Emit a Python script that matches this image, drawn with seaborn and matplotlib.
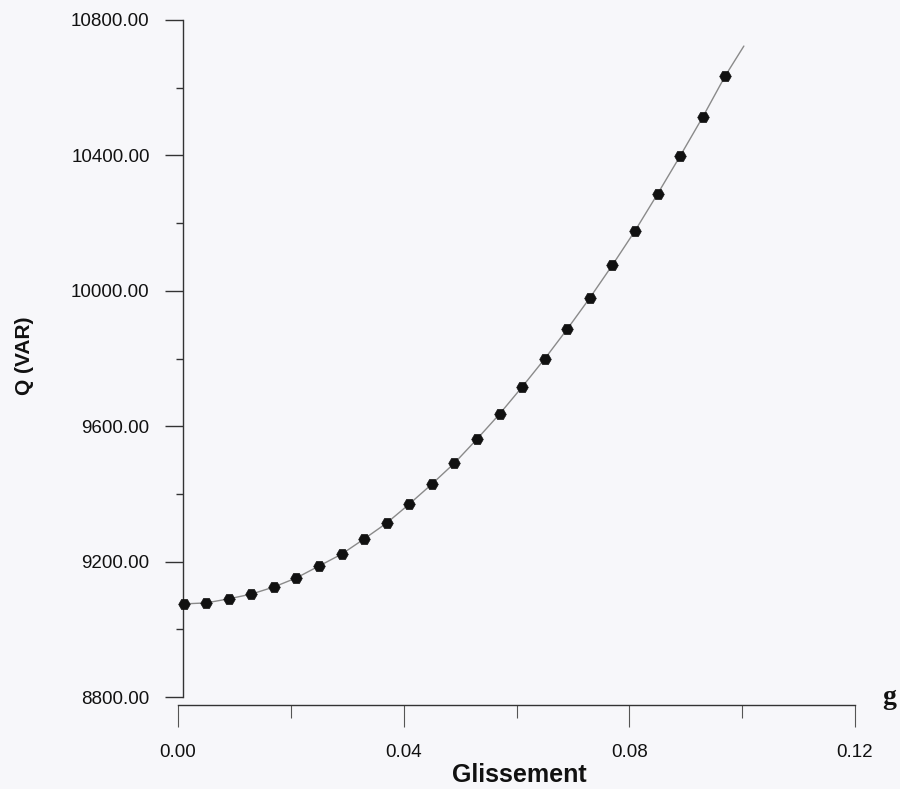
import matplotlib
matplotlib.use("Agg")
import matplotlib.pyplot as plt
import matplotlib.ticker as mticker
import seaborn as sns
import numpy as np
import pandas as pd

# ---- data ----
g_points = [0.001, 0.005, 0.009, 0.013, 0.017, 0.021, 0.025, 0.029, 0.033,
            0.037, 0.041, 0.045, 0.049, 0.053, 0.057, 0.061, 0.065, 0.069,
            0.073, 0.077, 0.081, 0.085, 0.089, 0.093, 0.097]
q_points = [9075, 9078, 9090, 9104, 9125, 9152, 9187, 9222, 9267,
            9314, 9370, 9429, 9491, 9562, 9636, 9716, 9799, 9887,
            9979, 10076, 10177, 10286, 10398, 10513, 10635]
g_curve_end = [0.1003]
q_curve_end = [10723]

y_ticks = [8800, 9200, 9600, 10000, 10400, 10800]
x_ticks = [0.00, 0.04, 0.08, 0.12]

bg = "#f7f7fa"
sns.set_theme(style="ticks")
plt.rcParams["font.family"] = ["Liberation Sans", "DejaVu Sans"]

fig = plt.figure(figsize=(9.0, 7.89), dpi=100, facecolor=bg)
ax = fig.add_axes([178 / 900, 1 - 697 / 789, (855 - 178) / 900, (697 - 20) / 789])
ax.set_facecolor(bg)

df_pts = pd.DataFrame({"g": g_points, "Q": q_points})
df_line = pd.DataFrame({"g": g_points + g_curve_end, "Q": q_points + q_curve_end})

sns.lineplot(data=df_line, x="g", y="Q", ax=ax, color="#8a8a8a", lw=1.0, zorder=2)
sns.scatterplot(data=df_pts, x="g", y="Q", ax=ax, color="#111111", s=70,
                marker="H", edgecolor="#111111", linewidth=0.5, zorder=3)

ax.set_xlim(0, 0.12)
ax.set_ylim(8800, 10800)

ax.set_yticks(y_ticks)
ax.yaxis.set_minor_locator(mticker.MultipleLocator(200))
ax.yaxis.set_major_formatter(mticker.FormatStrFormatter("%.2f"))
ax.set_xticks(x_ticks)
ax.xaxis.set_minor_locator(mticker.MultipleLocator(0.02))
ax.xaxis.set_major_formatter(mticker.FormatStrFormatter("%.2f"))

ax.spines["top"].set_visible(False)
ax.spines["right"].set_visible(False)
ax.spines["left"].set_position(("data", 0.0009))
ax.spines["bottom"].set_position(("outward", 6))
for s in ("left", "bottom"):
    ax.spines[s].set_color("#333333")
    ax.spines[s].set_linewidth(1.0)

ax.tick_params(axis="y", which="major", direction="out", length=13, width=1,
               color="#333333", pad=11, labelsize=13.5, labelcolor="#111111")
ax.tick_params(axis="y", which="minor", direction="out", length=5, width=1,
               color="#333333")
ax.tick_params(axis="x", which="major", direction="out", length=16, width=0.8,
               color="#555555", pad=12, labelsize=13.5, labelcolor="#111111")
ax.tick_params(axis="x", which="minor", direction="out", length=9, width=0.8,
               color="#555555")

ax.set_xlabel("")
ax.set_ylabel("")
fig.text(25 / 900, 1 - 356 / 789, "Q (VAR)", rotation=90, ha="center", va="center",
         fontsize=15, fontweight="bold", color="#111111")
fig.text(519 / 900, 1 - 775 / 789, "Glissement", ha="center", va="center",
         fontsize=18, fontweight="bold", color="#111111")
fig.text(889 / 900, 1 - 697 / 789, "g", ha="center", va="center",
         fontsize=20, fontweight="bold", color="#111111",
         family=["Liberation Serif", "DejaVu Serif"])

fig.savefig("out.png", dpi=100, facecolor=bg)
